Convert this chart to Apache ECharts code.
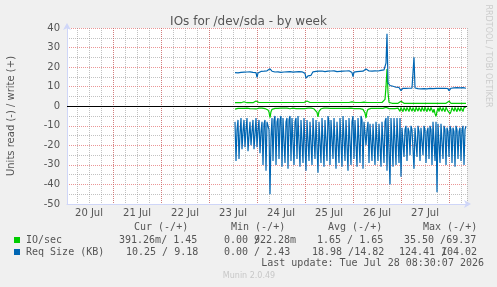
<!DOCTYPE html>
<html><head><meta charset="utf-8">
<script src="https://cdn.jsdelivr.net/npm/echarts@6/dist/echarts.min.js"></script>
<style>html,body{margin:0;padding:0;background:#f0f0f0}#c{width:497px;height:287px}</style>
</head><body><div id="c"></div>
<script>
// ---- data ----
const dayLabels = ['20 Jul','21 Jul','22 Jul','23 Jul','24 Jul','25 Jul','26 Jul','27 Jul'];
const startHour = 85;   // hours after 20 Jul 00:00 of first sample
const stepHours = 0.5;  // 30 min samples

const ioRead = [
-1.5,-1.3,-1.2,-1.1,-1.2,-1.0,-1.1,-1.2,-1.0,-1.1,
-1.2,-1.1,-1.0,-1.2,-1.1,-1.2,-1.0,-1.1,-1.3,-1.1,
-1.2,-1.4,-1.3,-1.1,-1.0,-1.2,-1.1,-1.0,-1.2,-1.1,
-1.2,-1.3,-1.5,-1.9,-3.0,-5.8,-2.8,-1.6,-1.3,-1.2,
-1.1,-1.2,-1.0,-1.1,-1.2,-1.1,-1.0,-1.2,-1.1,-1.0,
-1.2,-1.1,-1.0,-1.2,-1.1,-1.3,-1.2,-1.1,-1.0,-1.2,
-1.1,-1.2,-1.0,-1.1,-1.2,-1.1,-1.0,-1.2,-1.1,-1.3,
-1.2,-1.1,-1.2,-1.0,-1.1,-1.2,-1.0,-1.1,-1.2,-1.3,
-1.5,-2.0,-3.2,-5.5,-2.6,-1.6,-1.3,-1.2,-1.1,-1.0,
-1.1,-1.2,-1.0,-1.1,-1.2,-1.1,-1.0,-1.2,-1.1,-1.0,
-1.2,-1.1,-1.0,-1.2,-1.1,-1.3,-1.2,-1.1,-1.0,-1.2,
-1.1,-1.2,-1.0,-1.1,-1.2,-1.1,-1.0,-1.2,-1.4,-1.2,
-1.1,-1.0,-1.2,-1.1,-1.0,-1.2,-1.1,-1.3,-1.6,-2.2,
-3.5,-6.0,-2.8,-1.6,-1.3,-1.2,-1.1,-1.0,-1.2,-1.1,
-1.0,-1.2,-1.1,-1.0,-1.2,-1.1,-1.0,-1.2,-1.1,-1.0,
-0.8,-0.6,-0.9,-1.4,-1.2,-1.1,-1.0,-1.2,-1.1,-1.0,
-1.2,-1.1,-1.3,-1.0,-1.1,
-2.6,-0.6,-0.9, -2.8,-0.7,-1.0, -2.5,-0.6,-0.8, -2.7,-0.5,-0.9,
-2.6,-0.7,-1.0, -2.8,-0.6,-0.8, -2.5,-0.7,-0.9, -2.7,-0.6,-1.0,
-2.6,-0.5,-0.8, -2.8,-0.7,-0.9, -2.5,-0.6,-1.0, -3.2,-1.5,-3.8,
-5.2,-2.6,-0.8, -2.7,-0.6,-0.9, -2.6,-0.7,-1.0, -2.8,-0.6,-0.8,
-2.5,-2.4,-3.8, -2.7,-0.7,-0.9, -2.6,-0.6,-1.0, -2.8,-0.7,-0.8,
-2.5,-0.6,-0.9, -2.7,-0.7,-1.0,
-0.39
];
const ioWrite = [
1.8,1.9,1.9,1.8,1.9,1.9,1.8,1.9,2.4,2.3,
1.9,1.9,1.8,1.9,1.9,1.8,1.9,1.9,1.8,1.9,
2.2,2.7,2.5,1.9,1.9,1.8,1.9,1.9,1.8,1.9,
1.9,1.8,1.9,1.9,2.0,2.1,1.9,1.9,1.8,1.9,
1.9,1.8,1.9,1.9,1.8,1.9,1.9,1.8,1.9,1.9,
1.8,1.9,1.9,1.8,1.9,1.9,1.8,1.9,1.9,1.8,
1.9,1.9,1.8,1.9,1.9,1.8,1.9,1.9,1.8,1.9,
2.6,2.7,2.7,2.5,2.2,1.9,1.9,1.8,1.9,1.9,
1.8,1.9,2.0,2.3,1.9,1.8,1.9,1.9,1.8,1.9,
1.9,1.8,1.9,1.9,1.8,1.9,1.9,1.8,1.9,1.9,
1.8,1.9,1.9,1.8,1.9,1.9,1.8,1.9,1.9,1.8,
1.9,1.9,1.8,1.9,1.9,1.8,1.9,2.2,2.8,2.0,
1.9,1.8,1.9,1.9,1.8,1.9,1.9,1.8,1.9,2.1,
2.6,2.4,1.9,1.9,1.8,1.9,1.9,1.8,1.9,1.9,
1.8,1.9,1.9,1.8,1.9,1.9,1.8,1.9,2.0,2.2,
3.5,10.0,19.0,7.0,2.0,1.6,1.5,1.5,1.6,1.5,
1.5,1.6,1.5,1.5,1.6,2.0,2.5,1.6,1.5,1.5,
1.6,1.5,1.5,1.6,1.5,1.5,1.6,1.5,1.5,1.6,
1.5,1.5,1.6,1.5,1.5,1.6,1.5,1.5,1.6,1.5,
1.5,1.6,1.5,1.5,1.6,1.5,1.5,1.6,1.5,1.5,
1.6,1.5,1.5,1.6,1.5,1.5,1.6,1.5,1.5,1.6,
1.5,1.5,1.8,2.2,2.6,1.9,1.5,1.6,1.5,1.5,
1.6,1.5,1.5,1.6,1.5,1.5,1.6,1.5,1.5,1.5,
1.5,1.45
];
const reqRead = [
-8,-28,-12, -7,-27,-14, -6,-22,-13, -7,-21,-12, -6,-23,-15,
-8,-20,-13, -7,-22,-14, -6,-21,-12, -7,-24,-13, -8,
-30,-9,-7,-33,-8,-7,-12,-45,
-16,
-6,-28,-7, -5,-30,-8, -6,-27,-7, -5,-31,-6, -7,-29,-8,
-6,-32,-7, -5,-28,-6, -7,-30,-8, -6,-27,-5, -6,-31,-7,
-8,-29,-6, -5,-33,-7, -6,-28,-8, -7,-30,-6, -5,-27,-7,
-6,-34,-8, -7,-29,-6, -5,-31,-7, -6,-28,-5, -8,-30,-7,
-6,-27,-6, -5,-32,-8, -7,-29,-6, -6,-31,-5, -5,-28,-7,
-7,-33,-6, -6,-30,-8, -5,-27,-7, -8,-31,-6, -6,-29,-5,
-7,-32,-8, -9,-20,-12, -8,-29,-9, -8,-28,-9, -9,-30,-8,
-8,-28,-9, -8,-31,-8, -9,-29,-8, -6,-33,-5, -5,-40,-6,
-5,-31,-6, -5,-30,-6, -5,-29,-6,
-36,-11,-12, -26,-12,-10, -28,-11,-13, -25,-10,-12,
-13,-32,-11,-12, -26,-10,-13, -28,-11,-12, -25,-10,-12,
-29,-13,-11, -27,-10,-12, -30,-8,-9, -28,-8,-44,-9,-8,
-29,-9,-10, -27,-10,-12, -30,-11,-13, -26,-10,-12,
-29,-11,-13, -31,-10,-12, -27,-13,-11, -28,-12,-10,
-30,-12,-10.25
];
const reqWrite = [
17.2,17.5,17.3,17.1,17.4,17.6,17.3,17.5,17.8,17.4,
17.6,17.3,17.5,17.7,17.4,17.6,17.8,17.5,17.3,17.6,
17.5,17.2,14.8,17.0,17.5,17.6,17.8,17.5,17.7,17.9,
18.0,17.8,18.1,18.3,18.7,19.1,18.2,17.9,17.6,17.8,
17.5,17.7,17.4,17.6,17.8,17.5,17.3,17.6,17.9,17.5,
17.7,17.4,17.6,17.8,17.5,17.7,18.0,17.6,17.4,17.7,
17.9,17.6,17.8,17.5,17.7,18.1,17.8,17.6,17.9,17.5,
16.8,14.4,15.2,15.5,15.4,15.6,15.8,16.8,17.6,17.9,
18.1,17.8,18.0,18.2,17.9,18.1,17.8,18.0,18.2,17.9,
17.7,18.0,18.2,17.9,18.1,17.8,18.0,18.3,17.9,18.1,
17.8,18.0,17.7,17.9,18.2,17.8,18.0,17.7,17.9,18.1,
17.8,18.0,17.7,17.9,18.1,17.8,17.6,17.2,15.2,17.4,
17.8,18.0,17.7,17.9,17.6,17.8,18.0,17.7,17.9,18.2,
18.8,19.0,18.9,18.6,18.0,17.8,18.1,17.9,18.0,17.8,
18.1,17.9,18.2,18.0,17.8,18.1,18.3,18.0,18.2,18.6,
19.5,22.0,37.0,12.0,11.2,10.6,10.4,10.3,10.2,10.0,
9.8,9.7,9.7,9.6,9.6,9.4,8.0,9.0,9.2,9.2,
9.3,9.1,9.2,9.3,9.2,9.1,9.2,9.3,9.5,25.0,
9.3,9.2,9.1,9.0,8.9,9.0,8.9,8.8,8.9,9.0,
8.9,8.8,8.9,9.0,8.9,9.1,9.0,8.9,9.0,9.1,
9.0,9.1,9.2,9.0,9.1,9.2,9.0,9.1,9.2,9.3,
9.2,9.3,9.2,9.0,7.9,8.8,9.2,9.4,9.5,9.4,
9.5,9.4,9.5,9.6,9.5,9.4,9.5,9.6,9.5,9.4,
9.3,9.2
];

const statHeaders = ['Cur (-/+)','Min (-/+)','Avg (-/+)','Max (-/+)'];
const ioStats = ['391.26m/ 1.45','0.00 /','922.28m','1.65 / 1.65','35.50 /69.37'];
const reqStats = ['10.25 / 9.18','0.00 / 2.43','18.98 /14.82','124.41 /','104.02'];
const seriesNames = ['IO/sec','Req Size (KB)'];
const lastUpdate = 'Last update: Tue Jul 28 08:30:07 2026';

// ---- chart ----
const GREEN = '#00cc00', BLUE = '#0066b3';
const GREY = 'rgba(143,143,143,0.55)', RED = 'rgba(222,80,80,0.6)';
const AXIS = '#CFD6F8', FONT = '#555';
const toXY = arr => arr.map((v, i) => [startHour + i * stepHours, v]);

const lineSeries = (name, arr, color, extra) => Object.assign({
  name, type: 'line', data: toXY(arr), xAxisIndex: 0, yAxisIndex: 0,
  showSymbol: false, symbol: 'none', sampling: null,
  lineStyle: { color, width: 1.2 }, itemStyle: { color }, z: 3
}, extra || {});

const mono = '10px "DejaVu Sans Mono"';
const txt = (text, x, y, extra) => ({
  type: 'text', x, y, silent: true,
  style: Object.assign({ text, font: mono, fill: FONT, textVerticalAlign: 'middle', textAlign: 'left' }, extra || {})
});

const chart = echarts.init(document.getElementById('c'), null, { renderer: 'canvas' });
chart.setOption({
  animation: false,
  backgroundColor: '#f0f0f0',
  title: {
    text: 'IOs for /dev/sda - by week', left: 'center', top: 11,
    textStyle: { fontSize: 12, fontWeight: 'normal', color: FONT, fontFamily: 'DejaVu Sans' }
  },
  grid: [
    { left: 67, top: 28, width: 400, height: 176, show: true, backgroundColor: '#fff', borderWidth: 0 },
    { left: 65, top: 28, width: 402, height: 176 },
    { left: 65, top: 28, width: 384, height: 176 }
  ],
  xAxis: [
    { gridIndex: 0, type: 'value', min: 1, max: 201,
      axisLine: { show: true, onZero: false, lineStyle: { color: AXIS, width: 1 }, symbol: ['none', 'arrow'], symbolSize: [6, 7], symbolOffset: [0, 4] },
      axisTick: { show: false }, axisLabel: { show: false }, splitLine: { show: false } },
    { gridIndex: 1, type: 'value', min: 0, max: 201, interval: 6,
      axisLine: { show: false }, axisTick: { show: false }, axisLabel: { show: false },
      splitLine: { show: true, showMinLine: false, lineStyle: { color: GREY, type: [1, 1], width: 1 } } },
    { gridIndex: 1, type: 'value', min: 0, max: 201, interval: 24,
      axisLine: { show: false }, axisTick: { show: false }, axisLabel: { show: false },
      splitLine: { show: true, showMinLine: false, showMaxLine: false, lineStyle: { color: RED, type: [1, 1], width: 1 } } },
    { gridIndex: 2, type: 'category', data: dayLabels, boundaryGap: true,
      axisLine: { show: false }, axisTick: { show: false }, splitLine: { show: false },
      axisLabel: { color: FONT, fontSize: 10, fontFamily: 'DejaVu Sans', margin: 4 } }
  ],
  yAxis: [
    { gridIndex: 0, type: 'value', min: -50, max: 40, interval: 10,
      axisLine: { show: true, onZero: false, lineStyle: { color: AXIS, width: 1 }, symbol: ['none', 'arrow'], symbolSize: [6, 7], symbolOffset: [0, 5] },
      axisTick: { show: false },
      axisLabel: { color: FONT, fontSize: 10, fontFamily: 'DejaVu Sans', margin: 7 },
      splitLine: { show: true, showMinLine: false, lineStyle: { color: RED, type: [1, 1], width: 1 } },
      minorTick: { show: false, splitNumber: 2 },
      minorSplitLine: { show: true, lineStyle: { color: GREY, type: [1, 1], width: 1 } } },
    { gridIndex: 1, type: 'value', min: -50, max: 40, show: false },
    { gridIndex: 2, type: 'value', min: -50, max: 40, show: false }
  ],
  series: [
    lineSeries('IO/sec read', ioRead, GREEN),
    lineSeries('IO/sec write', ioWrite, GREEN),
    lineSeries('Req Size read', reqRead, BLUE),
    lineSeries('Req Size write', reqWrite, BLUE, {
      markLine: { silent: true, symbol: ['none', 'none'], label: { show: false },
        lineStyle: { color: '#000', width: 1, type: 'solid' }, data: [{ yAxis: 0 }], z: 5 }
    })
  ],
  graphic: [
    { type: 'text', x: 11, y: 116, rotation: Math.PI / 2, silent: true,
      style: { text: 'Units read (-) / write (+)', font: '10px "DejaVu Sans"', fill: FONT, textAlign: 'center', textVerticalAlign: 'middle' } },
    { type: 'text', x: 488, y: 56, rotation: -Math.PI / 2, silent: true,
      style: { text: 'RRDTOOL / TOBI OETIKER', font: '8px "DejaVu Sans"', fill: '#cccccc', textAlign: 'center', textVerticalAlign: 'middle' } },
    txt(statHeaders[0], 134, 227), txt(statHeaders[1], 231, 227), txt(statHeaders[2], 328, 227), txt(statHeaders[3], 423, 227),
    { type: 'rect', shape: { x: 14, y: 237, width: 6, height: 6 }, style: { fill: GREEN }, silent: true },
    txt(seriesNames[0], 26, 240),
    txt(ioStats[0], 119, 240), txt(ioStats[1], 224, 240), txt(ioStats[2], 254, 240), txt(ioStats[3], 317, 240), txt(ioStats[4], 404, 240),
    { type: 'rect', shape: { x: 14, y: 249, width: 6, height: 6 }, style: { fill: BLUE }, silent: true },
    txt(seriesNames[1], 26, 252),
    txt(reqStats[0], 126, 252), txt(reqStats[1], 224, 252), txt(reqStats[2], 312, 252), txt(reqStats[3], 399, 252), txt(reqStats[4], 441, 252),
    txt(lastUpdate, 484, 263, { textAlign: 'right' }),
    txt('Munin 2.0.49', 249, 276, { font: '8px "DejaVu Sans"', fill: '#c8c8c8', textAlign: 'center' })
  ]
});
</script></body></html>
